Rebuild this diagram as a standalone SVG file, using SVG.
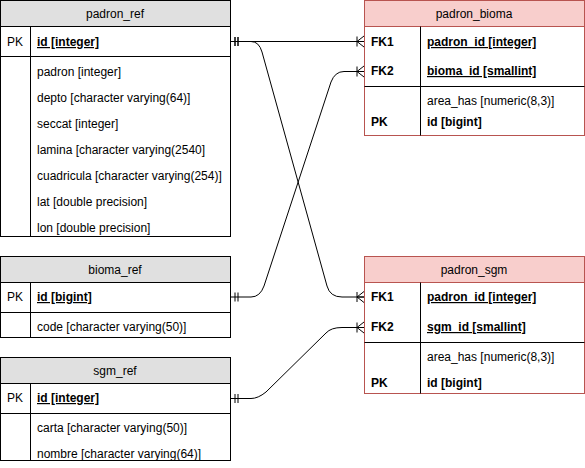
<svg xmlns="http://www.w3.org/2000/svg" width="585" height="468" viewBox="0 0 585 468">
<style>
text{font-family:"Liberation Sans",Arial,sans-serif;font-size:12px;fill:#000}
.t{text-anchor:middle}
.k{text-anchor:middle}
.b{font-weight:bold}
.u{font-weight:bold;text-decoration:underline}
.gh{fill:#e0e0e0;stroke:#000;stroke-width:1}
.gb{fill:#fff;stroke:#000;stroke-width:1}
.rh{fill:#f8cecc;stroke:#b85450;stroke-width:1}
.rb{fill:#fff;stroke:#b85450;stroke-width:1}
.ln{stroke:#000;stroke-width:1;fill:none}
.c{stroke:#000;stroke-width:1;fill:none;marker-start:url(#one);marker-end:url(#many)}
</style>
<defs>
<marker id="one" markerUnits="userSpaceOnUse" markerWidth="14" markerHeight="14" refX="0" refY="7" orient="auto" overflow="visible">
<path d="M5,2.5V11.5M8,2.5V11.5" stroke="#000" stroke-width="1" fill="none"/>
</marker>
<marker id="many" markerUnits="userSpaceOnUse" markerWidth="14" markerHeight="14" refX="14" refY="7" orient="auto" overflow="visible">
<path d="M7,2V12M7,7L14,1.5M7,7L14,12.5M7,7H14" stroke="#000" stroke-width="1" fill="none"/>
</marker>
</defs>
<g id="connectors">
<path class="c" d="M230,41.5H364"/>
<path class="c" d="M230,41.5H251Q259,41.5 262,52L327,286Q330,297 342,297H364"/>
<path class="c" d="M230,297H251Q260,297 264,286L331,82Q335,71.5 344,71.5H364"/>
<path class="c" d="M230,398.5H251Q258,398.5 266,392L326,333Q331,327.5 342,327.5H364"/>
</g>
<g id="padron_ref">
<rect class="gh" x="0.5" y="0.5" width="230" height="26"/>
<rect class="gb" x="0.5" y="26.5" width="230" height="210"/>
<path class="ln" d="M0.5,56.5H230.5M30.5,26.5V236.5"/>
<text class="t" x="115" y="18">padron_ref</text>
<text class="k" x="15" y="46">PK</text>
<text class="u" x="37" y="46">id [integer]</text>
<text x="37" y="76">padron [integer]</text>
<text x="37" y="102">depto [character varying(64)]</text>
<text x="37" y="128">seccat [integer]</text>
<text x="37" y="154">lamina [character varying(2540]</text>
<text x="37" y="180">cuadricula [character varying(254)]</text>
<text x="37" y="206">lat [double precision]</text>
<text x="37" y="232">lon [double precision]</text>
</g>
<g id="bioma_ref">
<rect class="gh" x="0.5" y="256.5" width="230" height="26"/>
<rect class="gb" x="0.5" y="282.5" width="230" height="55"/>
<path class="ln" d="M0.5,312.5H230.5M30.5,282.5V337.5"/>
<text class="t" x="115" y="274">bioma_ref</text>
<text class="k" x="15" y="301">PK</text>
<text class="u" x="37" y="301">id [bigint]</text>
<text x="37" y="331">code [character varying(50)]</text>
</g>
<g id="sgm_ref">
<rect class="gh" x="0.5" y="357.5" width="230" height="26"/>
<rect class="gb" x="0.5" y="383.5" width="230" height="77"/>
<path class="ln" d="M0.5,413.5H230.5M30.5,383.5V460.5"/>
<text class="t" x="115" y="375">sgm_ref</text>
<text class="k" x="15" y="402">PK</text>
<text class="u" x="37" y="402">id [integer]</text>
<text x="37" y="432">carta [character varying(50)]</text>
<text x="37" y="458">nombre [character varying(64)]</text>
</g>
<g id="padron_bioma">
<rect class="rh" x="364.5" y="0.5" width="220" height="26"/>
<rect class="rb" x="364.5" y="26.5" width="220" height="109"/>
<path class="ln" d="M364.5,86.5H584.5M420.5,26.5V135.5"/>
<text class="t" x="474" y="18">padron_bioma</text>
<text class="b" x="371" y="46">FK1</text>
<text class="u" x="427" y="46">padron_id [integer]</text>
<text class="b" x="371" y="75">FK2</text>
<text class="u" x="427" y="75">bioma_id [smallint]</text>
<text x="427" y="105">area_has [numeric(8,3)]</text>
<text class="b" x="371" y="126">PK</text>
<text class="b" x="427" y="126">id [bigint]</text>
</g>
<g id="padron_sgm">
<rect class="rh" x="364.5" y="256.5" width="220" height="26"/>
<rect class="rb" x="364.5" y="282.5" width="220" height="111"/>
<path class="ln" d="M364.5,342.5H584.5M420.5,282.5V393.5"/>
<text class="t" x="474" y="274">padron_sgm</text>
<text class="b" x="371" y="301">FK1</text>
<text class="u" x="427" y="301">padron_id [integer]</text>
<text class="b" x="371" y="331">FK2</text>
<text class="u" x="427" y="331">sgm_id [smallint]</text>
<text x="427" y="361">area_has [numeric(8,3)]</text>
<text class="b" x="371" y="387">PK</text>
<text class="b" x="427" y="387">id [bigint]</text>
</g>
</svg>
